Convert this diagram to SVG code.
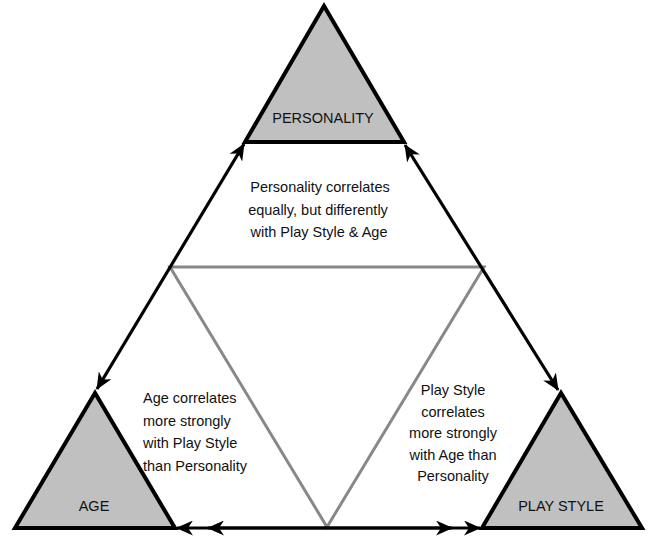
<svg xmlns="http://www.w3.org/2000/svg" width="652" height="537" viewBox="0 0 652 537">
<style>
.tri{fill:#c0c0c0;stroke:#000;stroke-width:4;stroke-linejoin:miter}
.inner{fill:none;stroke:#888;stroke-width:3}
.con{stroke:#000;stroke-width:3.2;fill:none;marker-start:url(#ah);marker-end:url(#ah)}
text{font-family:"Liberation Sans",Arial,Helvetica,sans-serif;font-size:14.5px;fill:#111}
.c{text-anchor:middle}
</style>
<defs>
<marker id="ah" viewBox="0 0 17 15" refX="16" refY="7.5" markerWidth="17" markerHeight="15" markerUnits="userSpaceOnUse" orient="auto-start-reverse">
<path d="M0,0 L17,7.5 L0,15 L5,7.5 Z" fill="#000"/>
</marker>
</defs>
<rect width="652" height="537" fill="#fff"/>
<g id="inner-triangle">
<polygon class="inner" points="170,267 484,267 327,527"/>
</g>
<g id="connectors">
<line class="con" x1="244" y1="144" x2="97" y2="389"/>
<line class="con" x1="405" y1="145" x2="558" y2="390"/>
<line class="con" x1="177" y1="528" x2="480" y2="528"/>
<line class="con" x1="208" y1="528" x2="452" y2="528"/>
</g>
<g id="personality">
<polygon class="tri" points="324,6 245,142 404,142"/>
<text class="c" x="323" y="123">PERSONALITY</text>
</g>
<g id="age">
<polygon class="tri" points="95,393 15,528 175,528"/>
<text class="c" x="94" y="511">AGE</text>
</g>
<g id="playstyle">
<polygon class="tri" points="561,393 482,528 642,528"/>
<text class="c" x="561" y="511">PLAY STYLE</text>
</g>
<g id="label-top">
<text class="c" x="320" y="192">Personality correlates</text>
<text class="c" x="318" y="214.5">equally, but differently</text>
<text class="c" x="319" y="237">with Play Style &amp; Age</text>
</g>
<g id="label-left">
<text x="143" y="403">Age correlates</text>
<text x="143" y="425.5">more strongly</text>
<text x="143" y="448">with Play Style</text>
<text x="143" y="470.5">than Personality</text>
</g>
<g id="label-right">
<text class="c" x="453" y="395">Play Style</text>
<text class="c" x="453" y="416.5">correlates</text>
<text class="c" x="453" y="438">more strongly</text>
<text class="c" x="453" y="459.5">with Age than</text>
<text class="c" x="453" y="481">Personality</text>
</g>
</svg>
